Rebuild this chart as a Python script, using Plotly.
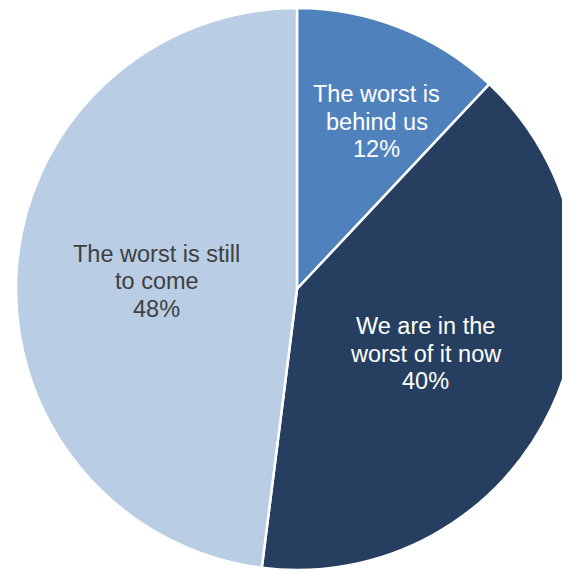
import math
import plotly.graph_objects as go

labels = ["The worst is<br>behind us", "We are in the<br>worst of it now", "The worst is still<br>to come"]
values = [12, 40, 48]
colors = ["#4F81BD", "#263F60", "#B9CDE5"]
text_colors = ["#FFFFFF", "#FFFFFF", "#404040"]
# label placement style: radial fraction and small angular nudge (degrees)
label_radius = [0.66, 0.512, 0.50]
label_nudge = [3.9, 1.5, -0.35]
LINE_GAP = 27.5  # px between label lines

W, H = 570, 571
# pie geometry in figure pixels (page body adds 8px offset)
x0_px, top_px = 8, 0
diam = W - x0_px
R = diam / 2
cx, cy = x0_px + R, top_px + R

fig = go.Figure(go.Pie(
    labels=labels,
    values=values,
    sort=False,
    direction="clockwise",
    rotation=0,
    marker=dict(colors=colors, line=dict(color="#FFFFFF", width=2.5)),
    textinfo="none",
    hoverinfo="skip",
    showlegend=False,
    domain=dict(x=[x0_px / W, 1.0], y=[(H - top_px - diam) / H, 1 - top_px / H]),
))

total = sum(values)
cum = 0
annotations = []
for lab, v, tc, f, nd in zip(labels, values, text_colors, label_radius, label_nudge):
    mid = (cum + v / 2) / total * 360 + nd
    cum += v
    px = cx + f * R * math.sin(math.radians(mid))
    py = cy - f * R * math.cos(math.radians(mid))
    pct = round(v / total * 100)
    lines = lab.split("<br>") + [f"{pct}%"]
    n = len(lines)
    for i, line in enumerate(lines):
        annotations.append(dict(
            x=px / W, y=1 - py / H, xref="paper", yref="paper",
            yshift=((n - 1) / 2 - i) * LINE_GAP,
            text=line, showarrow=False,
            xanchor="center", yanchor="middle", align="center",
            font=dict(family="Liberation Sans, Arial, sans-serif", size=23.5, color=tc),
        ))

fig.update_layout(
    width=W, height=H,
    margin=dict(l=0, r=0, t=0, b=0),
    paper_bgcolor="#FFFFFF",
    annotations=annotations,
)
fig.write_html("out.html")
